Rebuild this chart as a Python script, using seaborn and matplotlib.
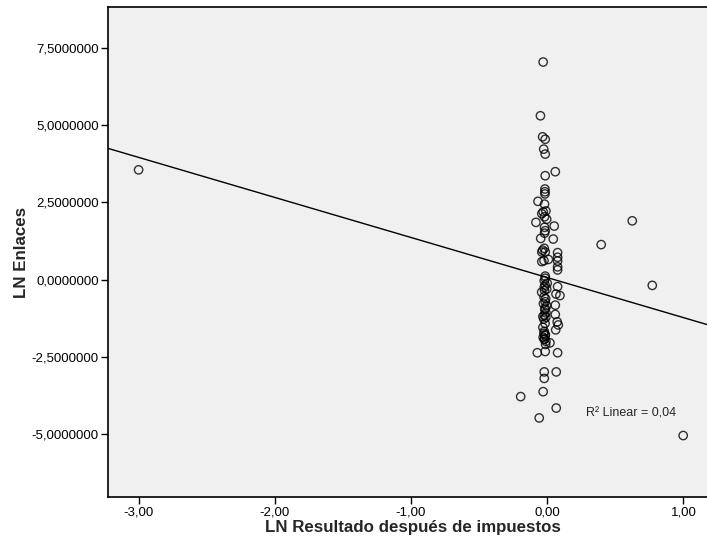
import pandas as pd
import matplotlib
matplotlib.use("Agg")
import matplotlib.pyplot as plt
import seaborn as sns
from matplotlib.ticker import FuncFormatter, FixedLocator

sns.set_style("ticks")
plt.rcParams['font.family'] = ['Liberation Sans', 'DejaVu Sans']

# valores (LN Resultado después de impuestos, LN Enlaces)
resultado = [
    -3.000, 0.624, 0.396, 0.771, 0.998, -0.195, -0.059, 0.066, -0.030, -0.022,
    -0.022, 0.066, -0.073, -0.015, 0.076,
    -0.030, -0.050, -0.034, -0.015, -0.026, -0.015, 0.059, -0.015, -0.017, -0.017,
    -0.017, -0.068, -0.020, -0.030, -0.010, -0.040, -0.020, -0.083, -0.004, 0.051,
    -0.020, -0.015, -0.020, -0.048, 0.044,
    -0.034, -0.022, -0.040, -0.015, 0.076, 0.076, 0.076, -0.024, 0.008, -0.040,
    0.076, 0.076, -0.015, -0.015,
    -0.022, -0.015, -0.022, -0.004, 0.076, 0.093, 0.064, -0.041, -0.024, -0.015,
    -0.004, 0.059, -0.015, -0.022, -0.010, -0.032, 0.059, 0.073, 0.081, 0.062,
    -0.032, -0.024, -0.015, -0.030, -0.022, -0.010, 0.020,
    -0.020, -0.012, -0.028, -0.018, -0.010, -0.025, -0.016, -0.022, -0.014, -0.020,
    0.000, -0.012,
]
enlaces = [
    3.55, 1.90, 1.13, -0.19, -5.05, -3.79, -4.48, -4.16, -3.63, -3.20,
    -2.99, -2.99, -2.37, -2.33, -2.37,
    7.04, 5.30, 4.62, 4.54, 4.22, 4.06, 3.49, 3.36, 2.93, 2.84,
    2.77, 2.53, 2.44, 2.19, 2.22, 2.13, 2.03, 1.85, 1.95, 1.73,
    1.69, 1.58, 1.50, 1.33, 1.31,
    0.95, 1.01, 0.89, 0.89, 0.87, 0.72, 0.60, 0.61, 0.65, 0.58,
    0.41, 0.31, 0.11, 0.04,
    -0.04, -0.18, -0.25, -0.31, -0.23, -0.52, -0.47, -0.41, -0.56, -0.72,
    -0.85, -0.83, -0.93, -1.15, -1.22, -1.20, -1.13, -1.37, -1.47, -1.63,
    -1.55, -1.74, -1.82, -1.87, -1.94, -2.00, -2.05,
    -0.35, -0.62, -0.78, -0.98, -1.08, -1.28, -1.42, -1.68, -1.78, -1.92,
    -0.12, -2.10,
]
r2_texto = "R² Linear = 0,04"

df = pd.DataFrame({'resultado': resultado, 'enlaces': enlaces})

fig = plt.figure(figsize=(7.07, 5.44), dpi=100)
ax = fig.add_axes([0.1523, 0.0858, 0.8647, 0.9007])
ax.set_facecolor('#f0f0f0')
ax.set_xlim(-3.227, 1.261)
ax.set_ylim(-7.05, 8.81)

sns.regplot(data=df, x='resultado', y='enlaces', ax=ax, ci=None, truncate=False,
            scatter_kws=dict(s=36, facecolors='none', edgecolors='black', linewidths=1.0),
            line_kws=dict(color='black', linewidth=1.0))

ax.text(0.284, -4.35, r2_texto, fontsize=9, va='center', ha='left')

ax.xaxis.set_major_locator(FixedLocator([-3, -2, -1, 0, 1]))
ax.yaxis.set_major_locator(FixedLocator([-5, -2.5, 0, 2.5, 5, 7.5]))
ax.xaxis.set_major_formatter(FuncFormatter(lambda v, p: f"{v:.2f}".replace('.', ',')))
ax.yaxis.set_major_formatter(FuncFormatter(lambda v, p: f"{v:.7f}".replace('.', ',')))
ax.tick_params(direction='out', length=5, width=1.0, labelsize=9.5, colors='black')
ax.tick_params(axis='x', pad=1.5)
ax.tick_params(axis='y', pad=1.5)

for s in ['left', 'bottom', 'top', 'right']:
    ax.spines[s].set_color('black')
    ax.spines[s].set_linewidth(1.2)

ax.set_xlabel('LN Resultado después de impuestos', fontsize=12.2, fontweight='bold', labelpad=1.5)
ax.set_ylabel('LN Enlaces', fontsize=12.2, fontweight='bold', labelpad=2)

fig.savefig('out.png', dpi=100)
